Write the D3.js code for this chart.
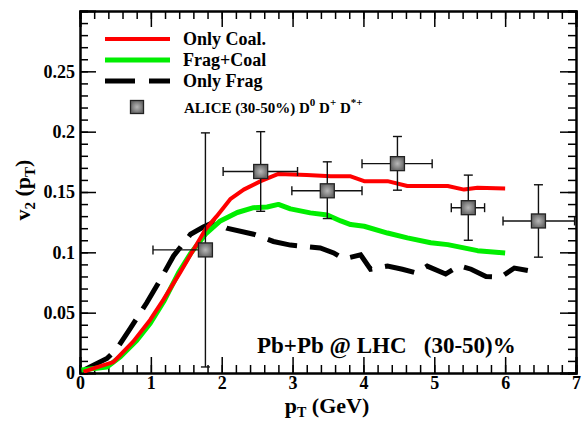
<!DOCTYPE html>
<html><head><meta charset="utf-8">
<script src="https://cdn.jsdelivr.net/npm/d3@7"></script>
<style>body{margin:0;background:#fff}svg{display:block}text{font-family:"Liberation Serif","Times New Roman",serif;font-weight:bold}</style>
</head><body><svg id="c" width="582" height="422"></svg>
<script>
// Data
const coalX = [0.05,0.2,0.47,0.75,0.99,1.18,1.41,1.6,1.77,1.93,2.12,2.31,2.55,2.8,3.2,3.54,3.82,4.01,4.34,4.62,5.19,5.42,5.61,6.0];
const coalY = [0.001,0.004,0.009,0.026,0.044,0.061,0.083,0.102,0.119,0.130,0.144,0.152,0.159,0.165,0.164,0.163,0.163,0.159,0.159,0.155,0.155,0.152,0.1535,0.153];
const fcX = [0.02,0.38,0.57,0.8,0.99,1.18,1.39,1.56,1.77,1.98,2.22,2.45,2.64,2.8,2.97,3.25,3.49,3.68,3.82,4.01,4.34,4.62,4.95,5.19,5.61,6.0];
const fcY = [0.0025,0.005,0.0135,0.027,0.041,0.059,0.083,0.099,0.115,0.126,0.133,0.137,0.1376,0.1397,0.136,0.1327,0.131,0.126,0.123,0.1216,0.116,0.112,0.108,0.1064,0.1014,0.0995];
const fragX = [0.07,0.38,0.52,0.71,0.94,1.13,1.32,1.56,1.74,1.89,2.07,2.45,2.73,2.97,3.39,3.58,3.72,3.96,4.1,4.34,4.55,4.74,4.9,5.16,5.35,5.52,5.73,5.94,6.13,6.32];
const fragY = [0.003,0.012,0.02,0.037,0.058,0.077,0.097,0.115,0.121,0.125,0.120,0.115,0.109,0.106,0.1036,0.0995,0.0945,0.098,0.086,0.0886,0.086,0.083,0.0886,0.082,0.089,0.086,0.080,0.0795,0.087,0.085];
const aliceX = [1.77,2.55,3.49,4.48,5.48,6.47];
const aliceY = [0.102,0.167,0.151,0.1735,0.137,0.126];
const aliceYlo = [0.005,0.134,0.128,0.1515,0.110,0.096];
const aliceYhi = [0.199,0.200,0.175,0.196,0.164,0.156];
const aliceXlo = [1.03,2.02,2.99,3.98,5.24,5.97];
const aliceXhi = [1.8,3.07,3.98,4.97,5.71,6.98];
const xTicks = [0,1,2,3,4,5,6,7];
const yTicks = [0,0.05,0.1,0.15,0.2,0.25];
const yTickLabels = ["0","0.05","0.1","0.15","0.2","0.25"];

const svg = d3.select("#c");
const L=80,R=576,T=11,B=373;
const x = d3.scaleLinear().domain([0,7]).range([L,R]);
const y = d3.scaleLinear().domain([0,0.3]).range([B,T]);

const defs = svg.append("defs");
const g = defs.append("radialGradient").attr("id","mk");
g.append("stop").attr("offset","0%").attr("stop-color","#b8b8b8");
g.append("stop").attr("offset","100%").attr("stop-color","#6a6a6a");
defs.append("clipPath").attr("id","clip").append("rect").attr("x",L).attr("y",T).attr("width",R-L).attr("height",B-T);

// axes with ticks inward on all sides
const minorX = d3.range(0,7.001,0.2), minorY = d3.range(0,0.3001,0.01);
function ax(axisGen, tr){ return svg.append("g").attr("transform",tr).call(axisGen); }
const axB = ax(d3.axisBottom(x).tickValues(xTicks).tickSize(-16).tickFormat(d=>d),`translate(0,${B})`);
ax(d3.axisBottom(x).tickValues(minorX).tickSize(-8).tickFormat(""),`translate(0,${B})`);
ax(d3.axisTop(x).tickValues(xTicks).tickSize(-16).tickFormat(""),`translate(0,${T})`);
ax(d3.axisTop(x).tickValues(minorX).tickSize(-8).tickFormat(""),`translate(0,${T})`);
const axL = ax(d3.axisLeft(y).tickValues(yTicks).tickSize(-16).tickFormat((d,i)=>yTickLabels[i]),`translate(${L},0)`);
ax(d3.axisLeft(y).tickValues(minorY).tickSize(-8).tickFormat(""),`translate(${L},0)`);
ax(d3.axisRight(y).tickValues(yTicks).tickSize(-16).tickFormat(""),`translate(${R},0)`);
ax(d3.axisRight(y).tickValues(minorY).tickSize(-8).tickFormat(""),`translate(${R},0)`);
svg.selectAll(".domain").attr("stroke","#000").attr("stroke-width",2);
svg.selectAll(".tick line").attr("stroke","#000").attr("stroke-width",1.5);
axB.selectAll(".tick text").attr("font-size",18).attr("font-family","Liberation Serif").attr("font-weight","bold").attr("fill","#000").attr("y",3).attr("dy","0.71em");
axL.selectAll(".tick text").attr("font-size",18).attr("font-family","Liberation Serif").attr("font-weight","bold").attr("fill","#000").attr("x",-5);

const plot = svg.append("g").attr("clip-path","url(#clip)");
const line = d3.line().x(d=>x(d[0])).y(d=>y(d[1]));
plot.append("path").datum(fragX.map((v,i)=>[v,fragY[i]])).attr("d",line).attr("fill","none").attr("stroke","#000").attr("stroke-width",5).attr("stroke-dasharray","30,13");
plot.append("path").datum(fcX.map((v,i)=>[v,fcY[i]])).attr("d",line).attr("fill","none").attr("stroke","#00ee00").attr("stroke-width",5).attr("stroke-linejoin","round");
plot.append("path").datum(coalX.map((v,i)=>[v,coalY[i]])).attr("d",line).attr("fill","none").attr("stroke","#ff0000").attr("stroke-width",4).attr("stroke-linejoin","round");

// ALICE points
const cap=4.5, half=7;
const pts = plot.append("g").attr("stroke","#111").attr("stroke-width",1.4);
aliceX.forEach((xv,i)=>{
  const cx=x(xv), cy=y(aliceY[i]);
  pts.append("line").attr("x1",cx).attr("x2",cx).attr("y1",y(aliceYlo[i])).attr("y2",y(aliceYhi[i]));
  pts.append("line").attr("x1",x(aliceXlo[i])).attr("x2",x(aliceXhi[i])).attr("y1",cy).attr("y2",cy);
  [aliceYlo[i],aliceYhi[i]].forEach(v=>pts.append("line").attr("x1",cx-cap).attr("x2",cx+cap).attr("y1",y(v)).attr("y2",y(v)));
  [aliceXlo[i],aliceXhi[i]].forEach(v=>pts.append("line").attr("x1",x(v)).attr("x2",x(v)).attr("y1",cy-cap).attr("y2",cy+cap));
  pts.append("rect").attr("x",cx-half).attr("y",cy-half).attr("width",2*half).attr("height",2*half).attr("fill","url(#mk)").attr("stroke","#222").attr("stroke-width",1.3);
});

// Legend
const leg = svg.append("g");
const items = [["Only Coal.","#ff0000",4,null,39],["Frag+Coal","#00ee00",5,null,60],["Only Frag","#000",5,"30,14",81]];
items.forEach(([t,c,w,da,yy])=>{
  const l=leg.append("line").attr("x1",105).attr("x2",170).attr("y1",yy).attr("y2",yy).attr("stroke",c).attr("stroke-width",w);
  if(da) l.attr("stroke-dasharray",da);
  leg.append("text").attr("x",183).attr("y",yy+6).attr("font-size",18).text(t);
});
leg.append("rect").attr("x",137-6.5).attr("y",107-6.5).attr("width",13).attr("height",13).attr("fill","url(#mk)").attr("stroke","#222").attr("stroke-width",1.3);
const at = leg.append("text").attr("x",184).attr("y",113).attr("font-size",15);
at.append("tspan").text("ALICE (30-50%) D");
at.append("tspan").attr("dy",-7).attr("font-size",11).text("0");
at.append("tspan").attr("dy",7).text(" D");
at.append("tspan").attr("dy",-7).attr("font-size",11).text("+");
at.append("tspan").attr("dy",7).text(" D");
at.append("tspan").attr("dy",-7).attr("font-size",11).text("*+");

svg.append("text").attr("x",257).attr("y",353).attr("font-size",23).style("white-space","pre").text("Pb+Pb @ LHC   (30-50)%");

// Axis titles
const xt = svg.append("text").attr("x",327).attr("y",413).attr("text-anchor","middle").attr("font-size",22);
xt.append("tspan").text("p");
xt.append("tspan").attr("dy",4).attr("font-size",14).text("T");
xt.append("tspan").attr("dy",-4).text(" (GeV)");
const yt = svg.append("text").attr("transform","translate(30,190) rotate(-90)").attr("text-anchor","middle").attr("font-size",22);
yt.append("tspan").text("v");
yt.append("tspan").attr("dy",5).attr("font-size",15).text("2");
yt.append("tspan").attr("dy",-5).text(" (p");
yt.append("tspan").attr("dy",5).attr("font-size",15).text("T");
yt.append("tspan").attr("dy",-5).text(")");
</script></body></html>
